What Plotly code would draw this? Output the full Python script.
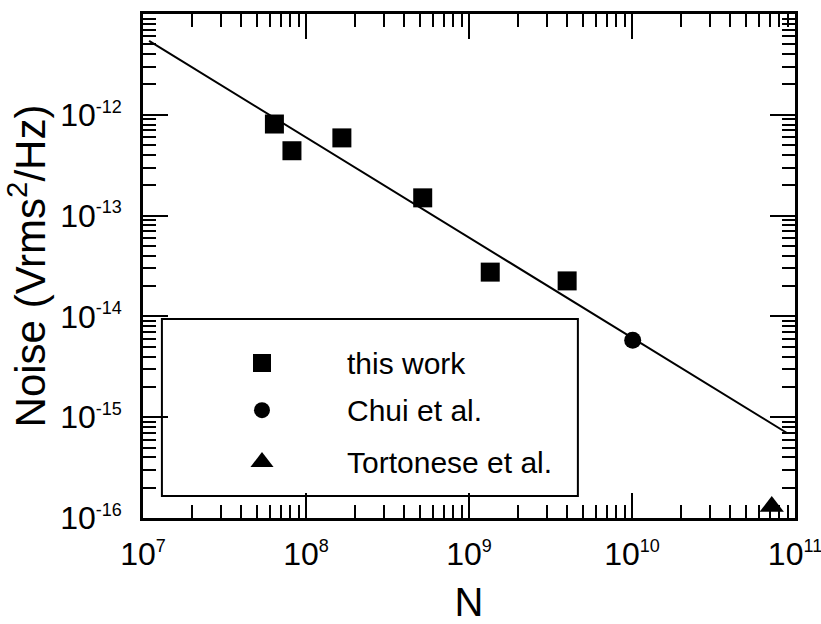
import plotly.graph_objects as go

# Noise power vs. number of carriers N
work_N = [6.4e7, 8.2e7, 1.66e8, 5.2e8, 1.35e9, 4.0e9]
work_noise = [8.1e-13, 4.4e-13, 5.9e-13, 1.5e-13, 2.75e-14, 2.25e-14]

chui_N = [1.01e10]
chui_noise = [5.8e-15]

tort_N = [7.2e10]
tort_noise = [1.3e-16]

# 1/N fit line endpoints
fit_N = [1.09e7, 8.93e10]
fit_noise = [5.4e-12, 6.97e-16]

x_tickvals = [1e7, 1e8, 1e9, 1e10, 1e11]
x_exps = ["7", "8", "9", "10", "11"]
y_tickvals = [1e-16, 1e-15, 1e-14, 1e-13, 1e-12]
y_exps = ["-16", "-15", "-14", "-13", "-12"]

legend_names = ["this work", "Chui et al.", "Tortonese et al."]
legend_symbols = ["square", "circle", "triangle-up"]
legend_sizes = [18, 16, 20]

FONT = "Liberation Sans, Arial, sans-serif"


def power_label(exp):
    return "10<sup><span style='font-size:18px'>" + exp + "</span></sup>"


x_ticktext = [power_label(e) for e in x_exps]
y_ticktext = [power_label(e) for e in y_exps]

x_minor = [m * 10 ** e for e in range(7, 11) for m in range(2, 10)]
y_minor = [m * 10.0 ** e for e in range(-16, -11) for m in range(2, 10)]

fig = go.Figure()

fig.add_trace(go.Scatter(x=fit_N, y=fit_noise, mode="lines",
                         line=dict(color="black", width=2), showlegend=False))
fig.add_trace(go.Scatter(x=work_N, y=work_noise, mode="markers",
                         marker=dict(symbol="square", size=19, color="black"),
                         showlegend=False, cliponaxis=False))
fig.add_trace(go.Scatter(x=chui_N, y=chui_noise, mode="markers",
                         marker=dict(symbol="circle", size=17, color="black"),
                         showlegend=False, cliponaxis=False))
fig.add_trace(go.Scatter(x=tort_N, y=tort_noise, mode="markers",
                         marker=dict(symbol="triangle-up", size=21, color="black"),
                         showlegend=False, cliponaxis=False))

# hand-drawn key on an overlay axis spanning the plot area
key_x = 0.1825
key_text_x = 0.31
key_rows = [0.3075, 0.214, 0.111]
for name, sym, sz, ry in zip(legend_names, legend_symbols, legend_sizes, key_rows):
    fig.add_trace(go.Scatter(x=[key_x], y=[ry], mode="markers", xaxis="x2", yaxis="y2",
                             marker=dict(symbol=sym, size=sz, color="black"),
                             showlegend=False, hoverinfo="skip"))
    fig.add_annotation(x=key_text_x, y=ry, xref="x2", yref="y2", text=name,
                       showarrow=False, xanchor="left", yanchor="middle",
                       font=dict(family=FONT, size=30, color="black"))

fig.add_shape(type="rect", xref="x2", yref="y2", x0=0.029, x1=0.667, y0=0.0437, y1=0.395,
              line=dict(color="black", width=2), fillcolor="rgba(0,0,0,0)")

axis_common = dict(
    type="log", showgrid=False, zeroline=False, automargin=False,
    showline=True, linecolor="black", linewidth=2.5, mirror="ticks",
    ticks="inside", ticklen=25, tickwidth=2, tickcolor="black",
    tickfont=dict(family=FONT, size=32, color="black"),
    ticklabeloverflow="allow",
)

fig.update_layout(
    width=821, height=624,
    margin=dict(l=143, r=26, t=14, b=106),
    plot_bgcolor="white", paper_bgcolor="white",
    showlegend=False,
    xaxis=dict(
        **axis_common, range=[7, 11],
        tickmode="array", tickvals=x_tickvals, ticktext=x_ticktext,
        minor=dict(ticks="inside", ticklen=13, tickwidth=2, tickcolor="black",
                   tickmode="array", tickvals=x_minor, showgrid=False),
        ticklabelstandoff=6,
        title=dict(text="N", font=dict(family=FONT, size=40, color="black"), standoff=30),
    ),
    yaxis=dict(
        **axis_common, range=[-16, -11],
        tickmode="array", tickvals=y_tickvals, ticktext=y_ticktext,
        minor=dict(ticks="inside", ticklen=13, tickwidth=2, tickcolor="black",
                   tickmode="array", tickvals=y_minor, showgrid=False),
        ticklabelstandoff=12,
        title=dict(text="Noise (Vrms<sup>2</sup>/Hz)", font=dict(family=FONT, size=42, color="black"),
                   standoff=10),
    ),
    xaxis2=dict(overlaying="x", range=[0, 1], visible=False, fixedrange=True),
    yaxis2=dict(overlaying="y", range=[0, 1], visible=False, fixedrange=True),
)

fig.write_html("out.html")
